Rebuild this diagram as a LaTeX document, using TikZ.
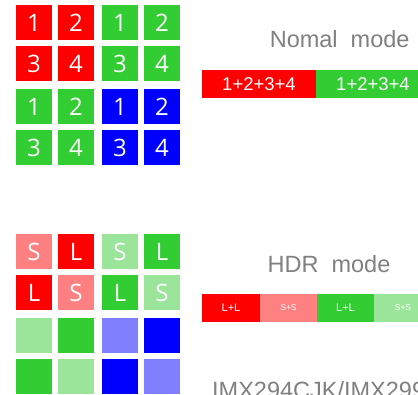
\documentclass[tikz,border=0pt]{standalone}
\usepackage{fontspec}
\setmainfont{Liberation Sans}
\newfontfamily\gridfont{Open Sans}
\definecolor{cred}{RGB}{255,0,0}
\definecolor{cgreen}{RGB}{50,205,50}
\definecolor{cblue}{RGB}{0,0,255}
\definecolor{cpink}{RGB}{255,128,128}
\definecolor{clgreen}{RGB}{154,229,154}
\definecolor{clblue}{RGB}{128,128,255}
\definecolor{cgray}{RGB}{128,128,128}
\tikzset{
  sq/.style={draw=none, minimum width=36pt, minimum height=35pt, inner sep=0pt, text=white,
    font=\gridfont\fontsize{24}{24}\selectfont},
  bar/.style={draw=none, minimum width=114pt, minimum height=28pt, inner sep=0pt, text=white,
    font=\fontsize{18.5}{18.5}\selectfont},
  seg/.style={draw=none, minimum width=57.5pt, minimum height=28pt, inner sep=0pt, text=white},
  title/.style={inner sep=0pt, anchor=base west, text=cgray, font=\fontsize{23.5}{23.5}\selectfont}
}
\begin{document}
\begin{tikzpicture}[x=1pt,y=-1pt]
\useasboundingbox (0,0) rectangle (418,394);
\clip (0,0) rectangle (418,394);
% normal mode grid
\node[sq,fill=cred]   (n11) at (34,22.5) {1};
\node[sq,fill=cred]   (n12) at (76,22.5) {2};
\node[sq,fill=cgreen] (n13) at (120,22.5) {1};
\node[sq,fill=cgreen] (n14) at (162,22.5) {2};
\node[sq,fill=cred]   (n21) at (34,63.5) {3};
\node[sq,fill=cred]   (n22) at (76,63.5) {4};
\node[sq,fill=cgreen] (n23) at (120,63.5) {3};
\node[sq,fill=cgreen] (n24) at (162,63.5) {4};
\node[sq,fill=cgreen] (n31) at (34,106.5) {1};
\node[sq,fill=cgreen] (n32) at (76,106.5) {2};
\node[sq,fill=cblue]  (n33) at (120,106.5) {1};
\node[sq,fill=cblue]  (n34) at (162,106.5) {2};
\node[sq,fill=cgreen] (n41) at (34,147.5) {3};
\node[sq,fill=cgreen] (n42) at (76,147.5) {4};
\node[sq,fill=cblue]  (n43) at (120,147.5) {3};
\node[sq,fill=cblue]  (n44) at (162,147.5) {4};
% HDR grid
\node[sq,fill=cpink]   (h11) at (34,251.5) {S};
\node[sq,fill=cred]    (h12) at (76,251.5) {L};
\node[sq,fill=clgreen] (h13) at (120,251.5) {S};
\node[sq,fill=cgreen]  (h14) at (162,251.5) {L};
\node[sq,fill=cred]    (h21) at (34,292.5) {L};
\node[sq,fill=cpink]   (h22) at (76,292.5) {S};
\node[sq,fill=cgreen]  (h23) at (120,292.5) {L};
\node[sq,fill=clgreen] (h24) at (162,292.5) {S};
\node[sq,fill=clgreen] (h31) at (34,335.5) {};
\node[sq,fill=cgreen]  (h32) at (76,335.5) {};
\node[sq,fill=clblue]  (h33) at (120,335.5) {};
\node[sq,fill=cblue]   (h34) at (162,335.5) {};
\node[sq,fill=cgreen]  (h41) at (34,376.5) {};
\node[sq,fill=clgreen] (h42) at (76,376.5) {};
\node[sq,fill=cblue]   (h43) at (120,376.5) {};
\node[sq,fill=clblue]  (h44) at (162,376.5) {};
% titles
\node[title] (tnorm) at (269.6,47.7) {Nomal\ \ mode};
\node[title] (thdr) at (267.4,272.7) {HDR\ \ mode};
\node[title] (timx) at (212,398.8) {IMX294CJK/IMX299};
% normal bar
\node[bar,fill=cred]   (b1) at (259,84) {1+2+3+4};
\node[bar,fill=cgreen] (b2) at (373,84) {1+2+3+4};
% HDR bar
\node[seg,fill=cred,font=\fontsize{11}{11}\selectfont]    (s1) at (231,308) {L+L};
\node[seg,fill=cpink,font=\fontsize{8.5}{8.5}\selectfont]  (s2) at (288.5,308) {S+S};
\node[seg,fill=cgreen,font=\fontsize{11}{11}\selectfont]  (s3) at (345.5,308) {L+L};
\node[seg,fill=clgreen,font=\fontsize{8.5}{8.5}\selectfont] (s4) at (403,308) {S+S};
\end{tikzpicture}
\end{document}
